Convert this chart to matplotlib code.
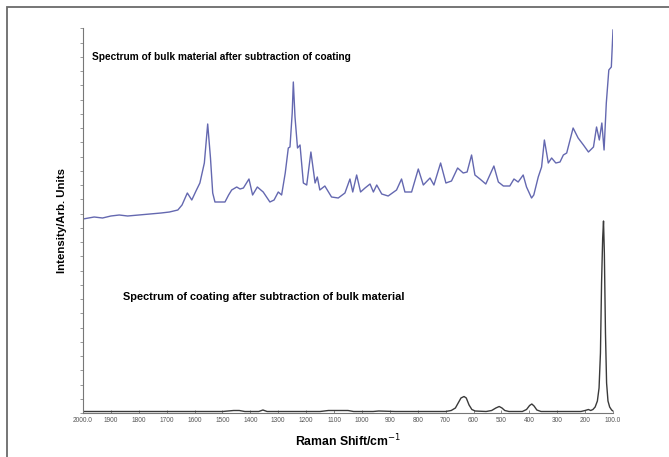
import matplotlib
matplotlib.use("Agg")
import matplotlib.pyplot as plt
from matplotlib.ticker import MultipleLocator, FixedLocator
from matplotlib.patches import Rectangle

plt.rcParams['font.family'] = ['Liberation Sans', 'DejaVu Sans']

# upper trace: bulk material (wavenumber, intensity in arb. units)
bulk_w = [2000, 1960, 1930, 1900, 1870, 1840, 1800, 1760, 1720, 1690, 1660, 1645,
          1626, 1610, 1595, 1581, 1565, 1553, 1543, 1535, 1527, 1510, 1491, 1478,
          1467, 1449, 1437, 1425, 1405, 1392, 1375, 1354, 1330, 1315, 1300, 1288,
          1275, 1264, 1258, 1250, 1246, 1240, 1231, 1222, 1210, 1198, 1183, 1168,
          1160, 1151, 1133, 1109, 1085, 1061, 1043, 1033, 1019, 1005, 989, 971,
          959, 947, 929, 906, 876, 858, 846, 822, 798, 780, 756, 742, 718, 699,
          679, 657, 637, 623, 607, 595, 577, 556, 527, 511, 493, 470, 455, 440,
          422, 410, 392, 384, 368, 356, 346, 338, 332, 320, 305, 290, 278, 266,
          243, 225, 206, 188, 170, 159, 149, 140, 132, 124, 115, 106, 100]
bulk_i = [194, 196, 195, 197, 198, 197, 198, 199, 200, 201, 203, 208,
          220, 213, 222, 230, 250, 289, 255, 220, 211, 211, 211, 218,
          223, 226, 224, 225, 234, 218, 226, 221, 211, 213, 221, 218,
          240, 265, 266, 300, 331, 296, 265, 268, 230, 228, 261, 230,
          236, 223, 227, 216, 215, 220, 234, 221, 238, 221, 225, 229,
          221, 228, 219, 217, 223, 234, 221, 221, 244, 228, 235, 228, 250, 230,
          232, 245, 240, 241, 258, 238, 234, 229, 247, 231, 227, 227, 234, 231,
          238, 226, 215, 218, 236, 246, 273, 260, 250, 255, 250, 251, 258, 260,
          285, 275, 268, 261, 266, 286, 273, 290, 263, 310, 343, 346, 383]

# lower trace: coating
coat_w = [2000, 1500, 1460, 1440, 1420, 1370, 1355, 1340, 1150, 1120, 1050, 1030,
          960, 940, 880, 700, 680, 665, 655, 645, 634, 626, 616, 606, 594,
          555, 535, 520, 508, 498, 488, 473, 425, 410, 399, 391, 383, 373, 358,
          215, 200, 188, 180, 172, 164, 156, 150, 145, 141, 137, 134, 131, 127,
          123, 118, 112, 105, 100]
coat_i = [1.5, 1.5, 2.5, 2.5, 1.5, 1.5, 3, 1.5, 1.5, 2.5, 2.5, 1.5,
          1.5, 2, 1.5, 1.5, 2.5, 5, 10, 15, 16.5, 15, 8, 3.5, 2,
          1.5, 2.5, 5, 6.5, 5, 2.5, 1.5, 1.5, 3.5, 7.5, 9, 7, 3, 1.5,
          1.5, 2.5, 3.5, 2.5, 3.5, 6, 12, 25, 60, 130, 175, 192, 160, 80,
          30, 12, 6, 3, 2]

xticks = [2000, 1900, 1800, 1700, 1600, 1500, 1400, 1300, 1200, 1100, 1000,
          900, 800, 700, 600, 500, 400, 300, 200, 100]
xticklabels = ["2000.0", "1900", "1800", "1700", "1600", "1500", "1400", "1300",
               "1200", "1100", "1000", "900", "800", "700", "600", "500", "400",
               "300", "200", "100.0"]

W, H = 669, 457
fig = plt.figure(figsize=(W / 100, H / 100), dpi=100)
fig.patches.append(Rectangle((7 / W, -0.1), 1.0, (H - 7) / H + 0.1,
                             transform=fig.transFigure, fill=False,
                             edgecolor="#6a6a6a", linewidth=1.3))

ax = fig.add_axes([83 / W, 44 / H, 530 / W, 385 / H])
ax.plot(bulk_w, bulk_i, color="#6468b0", lw=1.0)
ax.plot(coat_w, coat_i, color="#3a3a3a", lw=1.0)

ax.set_xlim(2000, 100)
ax.set_ylim(0, 385)
for s in ["top", "right"]:
    ax.spines[s].set_visible(False)
for s in ["left", "bottom"]:
    ax.spines[s].set_color("#777777")
    ax.spines[s].set_linewidth(0.8)

ax.xaxis.set_major_locator(FixedLocator(xticks))
ax.set_xticklabels(xticklabels)
ax.yaxis.set_major_locator(MultipleLocator(14.25))
ax.set_yticklabels([])
ax.tick_params(axis="x", direction="in", length=2, width=0.6, colors="#777777",
               labelsize=4.7, labelcolor="#555555", pad=3)
ax.tick_params(axis="y", direction="out", length=2, width=0.6, colors="#888888")

ax.set_xlabel("Raman Shift/cm$^{-1}$", fontsize=8.8, fontweight="bold", labelpad=6)
ax.set_ylabel("Intensity/Arb. Units", fontsize=8.2, fontweight="bold", labelpad=6)

ax.text(1968, 356, "Spectrum of bulk material after subtraction of coating",
        fontsize=7.3, fontweight="bold", va="center", ha="left")
ax.text(1855, 116, "Spectrum of coating after subtraction of bulk material",
        fontsize=7.9, fontweight="bold", va="center", ha="left")

fig.savefig("out.png", dpi=100)
